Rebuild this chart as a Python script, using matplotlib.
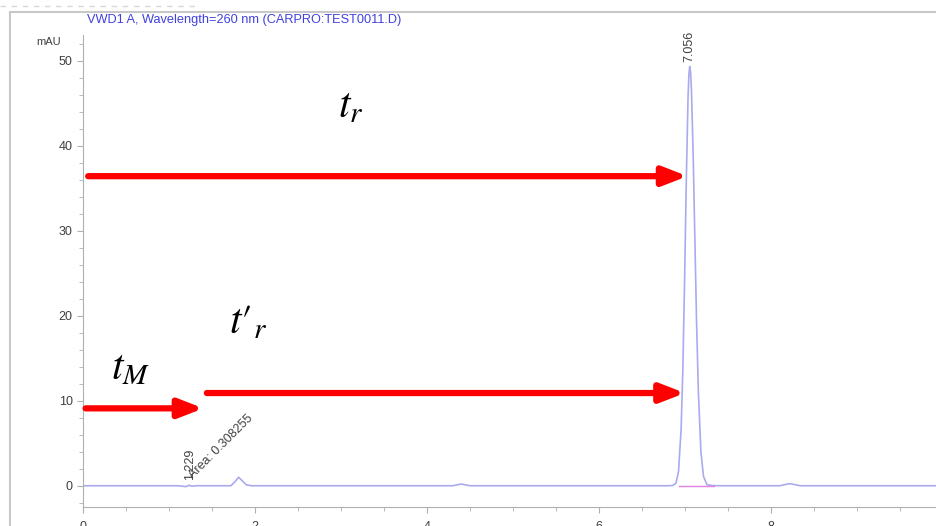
import matplotlib
matplotlib.use("Agg")
import matplotlib.pyplot as plt
from matplotlib.ticker import MultipleLocator
from matplotlib.lines import Line2D

plt.rcParams['font.family'] = ['Liberation Sans', 'DejaVu Sans']
plt.rcParams['mathtext.fontset'] = 'stix'

# detector trace (min, mAU)
time = [0.0, 1.10, 1.20, 1.23, 1.27, 1.32, 1.72, 1.77, 1.81, 1.85, 1.90, 1.96,
        4.30, 4.40, 4.50, 6.80,
        6.856, 6.896, 6.926, 6.956, 6.976, 6.996, 7.016, 7.036, 7.046, 7.056,
        7.066, 7.076, 7.096, 7.116, 7.136, 7.156, 7.186, 7.216, 7.256, 7.316, 7.40,
        8.10, 8.22, 8.34, 10.0]
signal = [0.0, 0.0, -0.1, 0.05, -0.05, 0.0, 0.0, 0.5, 1.0, 0.6, 0.1, 0.0,
          0.0, 0.2, 0.0, 0.0,
          0.02, 0.29, 1.7, 6.7, 13.7, 24.0, 35.8, 45.5, 48.3, 49.3,
          48.6, 46.5, 38.9, 28.9, 19.0, 11.2, 4.0, 1.1, 0.13, 0.02, 0.0,
          0.0, 0.25, 0.0, 0.0]

# integrated peaks
peak_rt = [1.229, 7.056]
peak_base = [(6.93, 7.34)]
area_label = "Area: 0.308255"

# retention time arrows: (start, end, level)
arrows = {'t_r': (0.06, 7.03, 36.4),
          't_M': (0.03, 1.40, 9.1),
          't_r_prime': (1.44, 7.00, 10.9)}

fig = plt.figure(figsize=(9.36, 5.26), dpi=100)
ax = fig.add_axes([83 / 936, 1 - 507 / 526, 1 - 83 / 936, (507 - 35) / 526])

ax.plot(time, signal, color='#aaaaee', lw=1.2)
for a, b in peak_base:
    ax.plot([a, b], [0, 0], color='#e080e0', lw=1.0)

ax.set_xlim(0, 9.92)
ax.set_ylim(-2.5, 53)

for sp in ['top', 'right']:
    ax.spines[sp].set_visible(False)
for sp in ['left', 'bottom']:
    ax.spines[sp].set_color('#b0b0b0')
ax.xaxis.set_major_locator(MultipleLocator(2))
ax.xaxis.set_minor_locator(MultipleLocator(0.5))
ax.yaxis.set_major_locator(MultipleLocator(10))
ax.yaxis.set_minor_locator(MultipleLocator(2))
ax.tick_params(which='both', colors='#b0b0b0', labelcolor='#404040', labelsize=9)
ax.tick_params(which='major', length=4)
ax.tick_params(which='minor', length=3)
ax.tick_params(axis='x', pad=6)

ax.text(9.76, -0.055, 'min', transform=ax.get_xaxis_transform(),
        fontsize=9, color='#404040', va='top', ha='left', clip_on=False)
fig.text(61 / 936, 1 - 42 / 526, 'mAU', fontsize=8, color='#404040',
         ha='right', va='center')
fig.text(87 / 936, 1 - 20 / 526, 'VWD1 A, Wavelength=260 nm (CARPRO:TEST0011.D)',
         fontsize=9.2, color='#4040e0', ha='left', va='center')

# peak labels
ax.text(peak_rt[1], 49.8, f'{peak_rt[1]:.3f}', rotation=90, fontsize=9,
        color='#404040', ha='center', va='bottom')
ax.text(peak_rt[0] + 0.02, 0.7, f'{peak_rt[0]:.3f}', rotation=90, fontsize=9,
        color='#404040', ha='center', va='bottom')
ax.text(1.30, 0.6, area_label, rotation=45, fontsize=9, color='#404040',
        ha='left', va='bottom', rotation_mode='anchor')

# red arrows
for key, (x0, x1, y) in arrows.items():
    ax.annotate('', xy=(x1, y), xytext=(x0, y),
                arrowprops=dict(arrowstyle='-|>,head_length=0.9,head_width=0.35',
                                color='#ff0000', lw=4.5, mutation_scale=16,
                                shrinkA=0, shrinkB=0))

ax.text(3.12, 44.6, r'$t_r$', fontsize=30, ha='center', va='center')
ax.text(1.92, 19.2, r'$t\prime_{r}$', fontsize=30, ha='center', va='center')
ax.text(0.55, 13.8, r'$t_M$', fontsize=30, ha='center', va='center')

# outer frame of the report
fig.add_artist(Line2D([10 / 936, 10 / 936], [0, 1 - 12 / 526],
                      color='#c8c8c8', lw=1.5, transform=fig.transFigure))
fig.add_artist(Line2D([10 / 936, 1], [1 - 12 / 526, 1 - 12 / 526],
                      color='#c8c8c8', lw=1.5, transform=fig.transFigure))
fig.add_artist(Line2D([0, 195 / 936], [1 - 6 / 526, 1 - 6 / 526],
                      color='#d8d8d8', lw=1, ls=(0, (4, 4)),
                      transform=fig.transFigure))

fig.savefig('out.png', dpi=100)
